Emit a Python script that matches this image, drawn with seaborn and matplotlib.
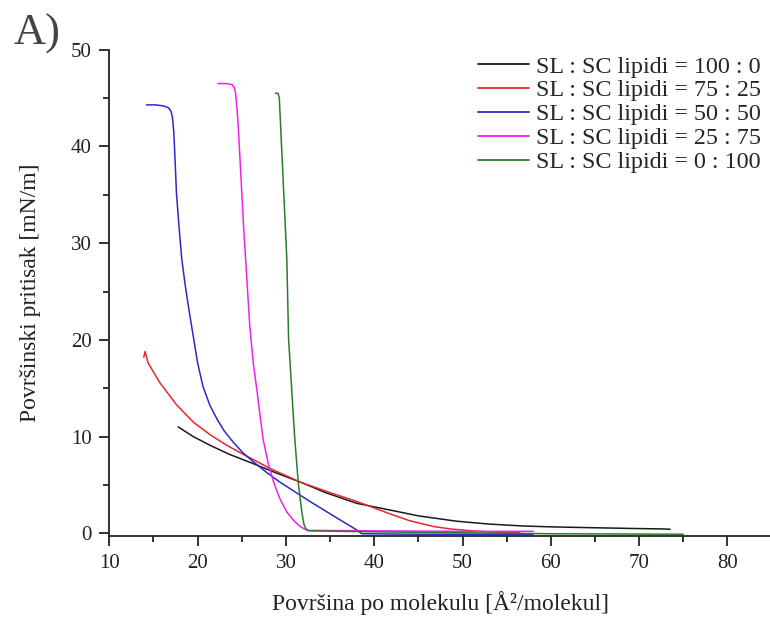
import numpy as np
import pandas as pd
import matplotlib
matplotlib.use("Agg")
import matplotlib.pyplot as plt
from matplotlib.ticker import MultipleLocator
import seaborn as sns

# isotherms (area per molecule vs. surface pressure)
labels = ["SL : SC lipidi = 100 : 0", "SL : SC lipidi = 75 : 25",
          "SL : SC lipidi = 50 : 50", "SL : SC lipidi = 25 : 75",
          "SL : SC lipidi = 0 : 100"]

black_x = [17.8, 19.5, 21.4, 23.5, 26.3, 29.0, 31.6, 34.5, 38.0, 41.8, 45.0, 49.3, 53.0, 56.9, 60.5, 64.4, 69.0, 72.5, 73.5]
black_y = [11.0, 10.0, 9.1, 8.2, 7.2, 6.2, 5.3, 4.2, 3.1, 2.4, 1.8, 1.25, 0.95, 0.75, 0.65, 0.58, 0.5, 0.45, 0.42]

red_x = [13.9, 14.05, 14.4, 15.7, 17.6, 19.5, 21.4, 23.3, 25.5, 28.2, 31.6, 35.0, 38.0, 41.8, 44.0, 46.7, 48.6, 51.2, 53.5, 56.5]
red_y = [18.2, 18.8, 17.6, 15.6, 13.3, 11.5, 10.2, 9.1, 8.0, 6.7, 5.3, 4.2, 3.3, 2.0, 1.3, 0.7, 0.45, 0.24, 0.12, 0.1]

blue_x = [14.2, 15.2, 16.1, 16.7, 17.0, 17.15, 17.3, 17.45, 17.6, 17.9, 18.2, 18.6, 19.0, 19.5, 20.0, 20.6, 21.4, 22.2, 23.0,
          24.0, 25.1, 26.3, 27.8, 29.3, 31.0, 32.7, 34.4, 36.1, 37.2, 38.0, 38.6, 45.0, 52.0, 58.0]
blue_y = [44.3, 44.3, 44.2, 44.0, 43.6, 43.0, 41.5, 38.5, 35.2, 31.6, 28.4, 25.6, 23.2, 20.4, 17.6, 15.2, 13.2, 11.8, 10.6,
          9.45, 8.35, 7.4, 6.3, 5.3, 4.3, 3.3, 2.35, 1.4, 0.8, 0.35, -0.05, -0.1, -0.1, -0.1]

magenta_x = [22.3, 23.3, 23.9, 24.15, 24.3, 24.45, 24.6, 25.2, 25.9, 26.3, 26.7, 27.4, 28.0, 28.6, 29.3, 30.1, 30.9, 31.6,
             32.4, 40.0, 50.0, 58.0]
magenta_y = [46.5, 46.5, 46.4, 46.1, 45.5, 44.0, 42.1, 31.8, 21.5, 17.6, 14.9, 9.8, 7.2, 5.3, 3.6, 2.2, 1.3, 0.7,
             0.3, 0.25, 0.2, 0.2]

green_x = [28.8, 29.1, 29.25, 29.4, 30.1, 30.3, 31.0, 31.4, 31.8, 32.05, 32.3, 32.6, 40.0, 50.0, 60.0, 75.0]
green_y = [45.5, 45.5, 45.0, 42.1, 28.4, 20.1, 9.8, 5.2, 2.2, 0.9, 0.4, 0.25, 0.15, 0.05, -0.05, -0.1]

colors = ["#1a1a1a", "#e8282c", "#2a2ac8", "#ee22ee", "#2a7d2a"]

series = [(black_x, black_y), (red_x, red_y), (blue_x, blue_y),
          (magenta_x, magenta_y), (green_x, green_y)]
frames = []
for lab, (xs, ys) in zip(labels, series):
    frames.append(pd.DataFrame({"area": xs, "pressure": ys, "sample": lab}))
df = pd.concat(frames, ignore_index=True)

sns.set_theme(style="ticks")
plt.rcParams["font.family"] = ["Liberation Serif", "DejaVu Serif"]

fig = plt.figure(figsize=(7.7, 6.22), dpi=100)
ax = fig.add_axes([0.142, 0.138, 0.86, 0.782])

sns.lineplot(data=df, x="area", y="pressure", hue="sample", hue_order=labels,
             palette=colors, sort=False, estimator=None, linewidth=1.1, ax=ax)

ax.set_xlim(10, 85)
ax.set_ylim(-0.3, 50)
ax.xaxis.set_major_locator(MultipleLocator(10))
ax.xaxis.set_minor_locator(MultipleLocator(5))
ax.yaxis.set_major_locator(MultipleLocator(10))
ax.yaxis.set_minor_locator(MultipleLocator(5))
ax.tick_params(which="major", length=7, width=1.3, labelsize=15, colors="#222222",
               direction="out", pad=5.5)
ax.tick_params(which="minor", length=4, width=1.3, colors="#222222", direction="out")
for s in ["top", "right"]:
    ax.spines[s].set_visible(False)
for s in ["left", "bottom"]:
    ax.spines[s].set_linewidth(1.3)
    ax.spines[s].set_color("#222222")

ax.set_xlabel("Površina po molekulu [Å²/molekul]", fontsize=17, color="#222222", labelpad=13)
ax.set_ylabel("Površinski pritisak [mN/m]", fontsize=17, color="#222222", labelpad=22)

leg = ax.legend(loc="upper right", bbox_to_anchor=(1.001, 0.926), bbox_transform=fig.transFigure,
                frameon=False, fontsize=17.4, handlelength=2.1, handletextpad=0.3,
                labelspacing=0.08, borderaxespad=0.0)
for line in leg.get_lines():
    line.set_linewidth(1.3)

fig.text(0.018, 0.978, "A)", fontsize=32, va="top", ha="left", color="#444444")

fig.savefig("out.png", dpi=100)
